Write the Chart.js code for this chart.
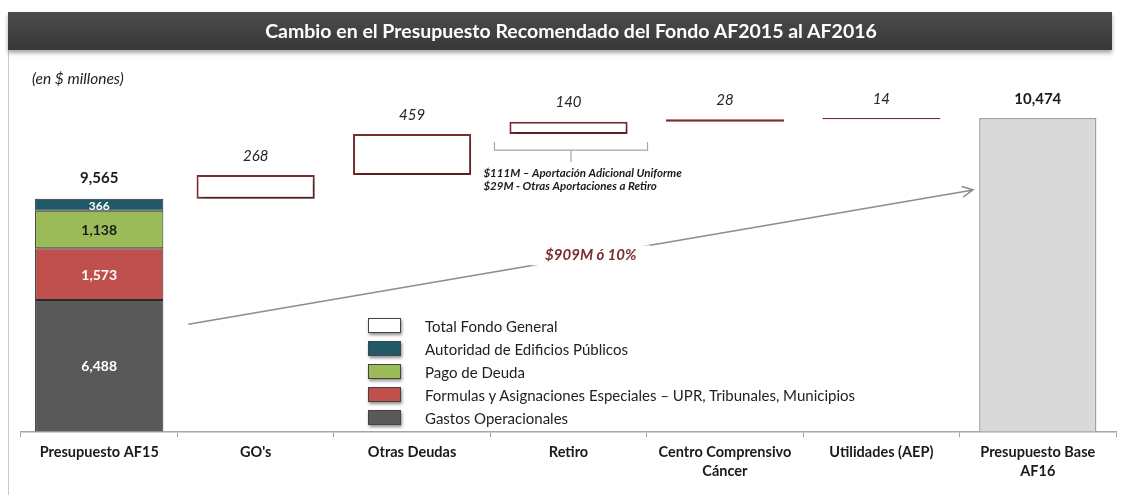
<!DOCTYPE html>
<html>
<head>
<meta charset="utf-8">
<script src="https://cdn.jsdelivr.net/npm/chart.js@4.4.1/dist/chart.umd.min.js"></script>
<style>
  body { margin: 0; background: #fff; font-family: Lato, sans-serif; }
  #marco { position: relative; width: 1121px; height: 495px; overflow: hidden; }
  #titulo {
    position: absolute; left: 8px; top: 12px; width: 1082px; height: 38px; padding-left: 22px;
    background: linear-gradient(#4b4b4b, #383838);
    box-shadow: 0 3px 4px rgba(0,0,0,0.35);
    color: #fff; font-weight: bold; font-size: 19.5px; line-height: 38px; text-align: center;
  }
  #borde { position: absolute; left: 8px; top: 50px; width: 1px; height: 445px; background: #c8c8c8; }
  #unidad { position: absolute; left: 32px; top: 69px; font-size: 15.5px; font-style: italic; color: #222; }
  #leyenda { position: absolute; left: 368px; top: 314px; font-size: 15px; color: #222; }
  .fila { height: 23px; display: flex; align-items: center; }
  .caja { width: 31px; height: 13px; border: 1px solid #444; box-shadow: 1px 2px 3px rgba(0,0,0,0.45); margin-right: 24px; }
  canvas { position: absolute; left: 0; top: 0; }
</style>
</head>
<body>
<div id="marco">
  <canvas id="grafica" width="1121" height="495"></canvas>
  <div id="borde"></div>
  <div id="titulo">Cambio en el Presupuesto Recomendado del Fondo AF2015 al AF2016</div>
  <div id="unidad">(en $ millones)</div>
  <div id="leyenda"></div>
</div>
<script>
// Datos del gráfico (en $ millones)
const categorias = ['Presupuesto AF15', "GO's", 'Otras Deudas', 'Retiro', ['Centro Comprensivo', 'Cáncer'], 'Utilidades (AEP)', ['Presupuesto Base', 'AF16']];
const componentesAF15 = ['Gastos Operacionales', 'Formulas y Asignaciones Especiales – UPR, Tribunales, Municipios', 'Pago de Deuda', 'Autoridad de Edificios Públicos'];
const valoresAF15 = [6488, 1573, 1138, 366];
const coloresAF15 = ['#595959', '#C0504D', '#9BBB59', '#215968'];
const cambios = [268, 459, 140, 28, 14];
const totales = [9565, 10474];
const notaRetiro = ['$111M – Aportación Adicional Uniforme', '$29M - Otras Aportaciones a Retiro'];

// Rango del eje (oculto)
const ejeMin = 6950, ejeMax = 11125;
const eje2Min = 2500;
const eje2Max = eje2Min + (totales[0] - eje2Min) * (ejeMax - ejeMin) / (totales[0] - ejeMin);

const fmt = v => v.toLocaleString('en-US');

// Barras flotantes de la cascada
let acumulado = totales[0];
const flotantes = [null];
cambios.forEach(c => { flotantes.push([acumulado, acumulado + c]); acumulado += c; });
flotantes.push(null);

const datasets = valoresAF15.map((v, i) => ({
    label: componentesAF15[i],
    data: [v, null, null, null, null, null, null],
    backgroundColor: coloresAF15[i],
    borderColor: '#2a2a2a',
    borderWidth: 1,
    borderSkipped: false,
    yAxisID: 'y2',
    barPercentage: 0.82,
    tipo: 'segmento',
}));
datasets.push({
    label: 'Total Fondo General',
    data: flotantes,
    backgroundColor: '#ffffff',
    borderColor: '#7B2E2E',
    borderWidth: 2,
    borderSkipped: false,
    yAxisID: 'y',
    barPercentage: 0.755,
    tipo: 'cambio',
});
datasets.push({
    label: 'Presupuesto Base AF16',
    data: [null, null, null, null, null, null, totales[1]],
    backgroundColor: '#D9D9D9',
    borderColor: '#A0A0A0',
    borderWidth: 1.5,
    yAxisID: 'y',
    barPercentage: 0.75,
    tipo: 'total',
});

// Leyenda en HTML
const leyenda = [['Total Fondo General', '#ffffff']].concat(
    componentesAF15.map((c, i) => [c, coloresAF15[i]]).reverse());
document.getElementById('leyenda').innerHTML = leyenda.map(([t, c]) =>
    `<div class="fila"><span class="caja" style="background:${c}"></span>${t}</div>`).join('');

// Sombra para las barras de cambio
const sombra = {
    id: 'sombra',
    beforeDatasetDraw(chart, args) {
        const ctx = chart.ctx;
        ctx.save();
        if (args.meta._dataset.tipo === 'cambio') {
            ctx.shadowColor = 'rgba(0,0,0,0.35)';
            ctx.shadowBlur = 4;
            ctx.shadowOffsetX = 2;
            ctx.shadowOffsetY = 3;
        }
    },
    afterDatasetDraw(chart) { chart.ctx.restore(); }
};

// Etiquetas, flecha y nota
const etiquetas = {
    id: 'etiquetas',
    afterDatasetsDraw(chart) {
        const ctx = chart.ctx;
        const area = chart.chartArea;
        ctx.save();
        ctx.textAlign = 'center';
        ctx.textBaseline = 'middle';

        // valores dentro del AF15
        valoresAF15.forEach((v, i) => {
            const el = chart.getDatasetMeta(i).data[0];
            const abajo = Math.min(el.base, area.bottom);
            ctx.font = 'bold ' + (i === 3 ? 12 : 14) + 'px Lato';
            ctx.fillStyle = i === 2 ? '#1a1a1a' : '#ffffff';
            ctx.fillText(fmt(v), el.x, (el.y + abajo) / 2 + 1);
        });
        const tope = chart.getDatasetMeta(valoresAF15.length - 1).data[0];
        ctx.font = 'bold 15px Lato';
        ctx.fillStyle = '#1a1a1a';
        ctx.fillText(fmt(totales[0]), tope.x, tope.y - 21);

        // cambios
        const metaC = chart.getDatasetMeta(valoresAF15.length);
        ctx.font = 'italic 15px Lato';
        ctx.fillStyle = '#262626';
        cambios.forEach((c, i) => {
            const el = metaC.data[i + 1];
            ctx.fillText(fmt(c), el.x, el.y - 19);
        });

        // total AF16
        const fin = chart.getDatasetMeta(valoresAF15.length + 1).data[6];
        ctx.font = 'bold 15px Lato';
        ctx.fillStyle = '#1a1a1a';
        ctx.fillText(fmt(totales[1]), fin.x, fin.y - 19);

        // corchete de Retiro
        const ret = metaC.data[3];
        const x0 = ret.x - ret.width / 2 - 15, x1 = ret.x + ret.width / 2 + 20;
        const yc = ret.base + 16;
        ctx.strokeStyle = '#a6a6a6';
        ctx.lineWidth = 1.2;
        ctx.beginPath();
        ctx.moveTo(x0, yc - 8); ctx.lineTo(x0, yc); ctx.lineTo(x1, yc); ctx.lineTo(x1, yc - 8);
        ctx.moveTo((x0 + x1) / 2, yc); ctx.lineTo((x0 + x1) / 2, yc + 12);
        ctx.stroke();
        ctx.textAlign = 'left';
        ctx.font = 'italic bold 11.5px Lato';
        ctx.fillStyle = '#1a1a1a';
        notaRetiro.forEach((t, i) => ctx.fillText(t, x0 - 11, yc + 23 + i * 13));

        // flecha de crecimiento
        const primero = chart.getDatasetMeta(0).data[0];
        const ax = primero.x + primero.width / 2 + 25, ay = area.bottom - 107;
        const bx = fin.x - fin.width / 2 - 6, by = fin.y + 72;
        ctx.strokeStyle = '#8c8c8c';
        ctx.lineWidth = 1.5;
        ctx.beginPath();
        ctx.moveTo(ax, ay); ctx.lineTo(bx, by);
        const ang = Math.atan2(by - ay, bx - ax);
        ctx.moveTo(bx - 12 * Math.cos(ang - 0.45), by - 12 * Math.sin(ang - 0.45));
        ctx.lineTo(bx, by);
        ctx.lineTo(bx - 12 * Math.cos(ang + 0.45), by - 12 * Math.sin(ang + 0.45));
        ctx.stroke();
        const dif = totales[1] - totales[0];
        const texto = '$' + dif + 'M ó ' + Math.round(dif / totales[0] * 100) + '%';
        const mx = (ax + bx) / 2 + 10, my = ay + (by - ay) * ((mx - ax) / (bx - ax));
        ctx.font = 'italic bold 15px Lato';
        const w = ctx.measureText(texto).width;
        ctx.fillStyle = '#ffffff';
        ctx.fillRect(mx - w / 2 - 14, my - 10, w + 28, 20);
        ctx.textAlign = 'center';
        ctx.fillStyle = '#7A2E2E';
        ctx.fillText(texto, mx, my);
        ctx.restore();
    }
};

new Chart(document.getElementById('grafica').getContext('2d'), {
    type: 'bar',
    data: { labels: categorias, datasets: datasets },
    options: {
        responsive: false,
        animation: false,
        datasets: { bar: { grouped: false, categoryPercentage: 1 } },
        layout: { padding: { left: 21, right: 5, top: 60, bottom: 8 } },
        plugins: { legend: { display: false }, tooltip: { enabled: false } },
        scales: {
            x: {
                grid: { drawOnChartArea: false, tickLength: 6, color: '#a6a6a6', offset: true },
                border: { color: '#a6a6a6', width: 1.5 },
                ticks: { color: '#1a1a1a', font: { family: 'Lato', size: 14.5, weight: 'bold', lineHeight: 1.3 }, maxRotation: 0, autoSkip: false, padding: 6 },
            },
            y: { display: false, min: ejeMin, max: ejeMax },
            y2: { display: false, stacked: true, min: eje2Min, max: eje2Max },
        },
    },
    plugins: [sombra, etiquetas],
});
</script>
</body>
</html>
